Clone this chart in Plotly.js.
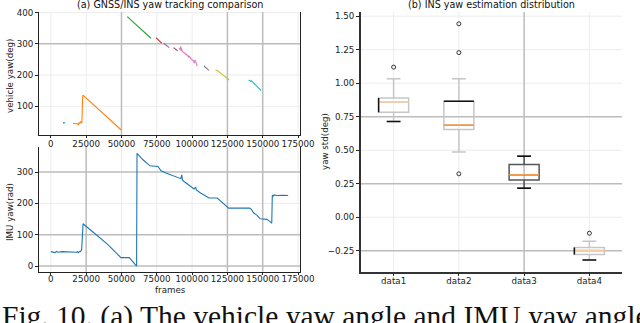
<!DOCTYPE html>
<html>
<head>
<meta charset="utf-8">
<script src="https://cdn.plot.ly/plotly-3.0.1.min.js"></script>
<style>html,body{margin:0;padding:0;background:#fff;}#chart{width:640px;height:323px;}</style>
</head>
<body>
<div id="chart"></div>
<script>
// ---------- DATA ----------
// (a) GNSS/INS yaw segments (frames, deg)
const seg1X = [8800, 9300, 9800];
const seg1Y = [45, 48, 46];
const seg2X = [15900, 17000, 18000, 19000, 19500, 20000, 20500, 21000, 21500, 22000, 22400, 22700, 26000, 30000, 34000, 35000, 37000, 38000, 40000, 45000, 49860];
const seg2Y = [45, 45, 46, 44, 40, 47, 46, 51, 47, 48, 120, 136, 122, 106, 89, 86, 77, 73, 65, 44, 24];
const seg3X = [54070, 56000, 58000, 60000, 62000, 64000, 66000, 68000, 70900];
const seg3Y = [387, 379, 372, 363, 355, 346, 339, 330, 318];
const seg4X = [74440, 76000, 78430];
const seg4Y = [320, 313, 302];
const seg5X = [79830, 81500, 83800];
const seg5Y = [302, 296, 288];
const seg6X = [86870, 88000, 89680];
const seg6Y = [288, 284, 278];
const seg7X = [90800, 91500, 92000, 92300, 92600, 93000, 94000, 95000, 96000, 97000, 97500, 98000, 99000, 100000, 101000, 101500, 102000, 103700];
const seg7Y = [286, 282, 292, 277, 285, 276, 272, 270, 263, 262, 256, 261, 253, 250, 246, 238, 248, 229];
const seg8X = [108400, 110000, 111900];
const seg8Y = [229, 222, 215];
const seg9X = [116600, 118000, 120000, 122000, 124000, 126400];
const seg9Y = [216, 214, 207, 200, 192, 184];
const seg10X = [140000, 141500, 142000, 144000, 146000, 147000, 148900];
const seg10Y = [184, 180, 182, 172, 165, 160, 150];

// IMU yaw (frames, value)
const imuX = [0, 2000, 3000, 4000, 5000, 8000, 12000, 16000, 18000, 19000, 19500, 20500, 21000, 21800, 22300, 22800, 30000, 40000, 49600, 55500, 60700, 61000, 65000, 70200, 75800, 78000, 82000, 87300, 90000, 92000, 92700, 93200, 94300, 98000, 101400, 102500, 103000, 106000, 111900, 117800, 125900, 140700, 142000, 143500, 146000, 148200, 153000, 155200, 156400, 156800, 157300, 158000, 160000, 164000, 168000];
const imuY = [46, 45, 43, 47, 44, 46, 45, 45, 44, 46, 43, 47, 46, 52, 100, 135, 108, 70, 27, 27, 0, 360, 340, 320, 318, 304, 296, 288, 283, 279, 291, 274, 270, 258, 246, 252, 243, 233, 217, 217, 185, 185, 181, 170, 162, 151, 149, 142, 137, 227, 222, 227, 225, 226, 225];

// (b) INS yaw estimation distribution (deg)
const boxCats = ['data1', 'data2', 'data3', 'data4'];
const boxLower = [0.714, 0.486, 0.216, -0.318];
const boxQ1 = [0.783, 0.655, 0.278, -0.278];
const boxMedian = [0.860, 0.687, 0.317, -0.248];
const boxQ3 = [0.890, 0.865, 0.394, -0.226];
const boxUpper = [1.034, 1.034, 0.456, -0.178];
const outlierCat = [1, 2, 2, 2, 4];
const outlierVal = [1.12, 1.443, 1.228, 0.324, -0.119];

const xTicks = [0, 25000, 50000, 75000, 100000, 125000, 150000, 175000];
const topYTicks = [100, 200, 300, 400];
const botYTicks = [0, 100, 200, 300];
const boxYTicks = [-0.25, 0, 0.25, 0.5, 0.75, 1.0, 1.25, 1.5];

// ---------- STYLE ----------
const W = 640, H = 323;
const px = v => v / W, py = v => 1 - v / H;
const tab = ['#1f77b4', '#ff7f0e', '#2ca02c', '#d62728', '#9467bd', '#8c564b', '#e377c2', '#7f7f7f', '#bcbd22', '#17becf'];
const FONT = 'DejaVu Sans, sans-serif';
const tickFont = {family: FONT, size: 8.7, color: '#222'};
const faint = '#ececec', dark = '#bcbcbc';
const BOXW = 0.46;

const segsX = [seg1X, seg2X, seg3X, seg4X, seg5X, seg6X, seg7X, seg8X, seg9X, seg10X];
const segsY = [seg1Y, seg2Y, seg3Y, seg4Y, seg5Y, seg6Y, seg7Y, seg8Y, seg9Y, seg10Y];

const traces = [];
segsX.forEach((sx, i) => {
  traces.push({x: sx, y: segsY[i], type: 'scatter', mode: 'lines', xaxis: 'x', yaxis: 'y',
    line: {color: tab[i], width: 1.1}, hoverinfo: 'skip'});
});
traces.push({x: imuX, y: imuY, type: 'scatter', mode: 'lines', xaxis: 'x2', yaxis: 'y2',
  line: {color: tab[0], width: 1.1}, hoverinfo: 'skip'});

const boxLineColors = ['#c6c6c6', '#c6c6c6', '#555555', '#c6c6c6'];
const medColors = ['#f8cfa6', '#f39a4a', '#f59c50', '#f8cba2'];
boxCats.forEach((c, i) => {
  const pos = i + 1;
  traces.push({type: 'box', x: [pos], q1: [boxQ1[i]], median: [boxMedian[i]], q3: [boxQ3[i]],
    lowerfence: [boxLower[i]], upperfence: [boxUpper[i]], xaxis: 'x3', yaxis: 'y3',
    width: BOXW, whiskerwidth: 0.46, boxpoints: false, fillcolor: 'rgba(0,0,0,0)',
    line: {color: boxLineColors[i], width: 1.5}, hoverinfo: 'skip'});
  traces.push({type: 'scatter', mode: 'lines', x: [pos - BOXW / 2, pos + BOXW / 2], y: [boxMedian[i], boxMedian[i]],
    xaxis: 'x3', yaxis: 'y3', line: {color: medColors[i], width: 1.6}, hoverinfo: 'skip'});
});
// darker edges seen in the reference rendering
const capHalf = BOXW * 0.46 / 2;
const darkEdges = [
  {x: [1 - BOXW / 2, 1 - BOXW / 2], y: [boxQ1[0], boxQ3[0]]},
  {x: [1 - capHalf, 1 + capHalf], y: [boxLower[0], boxLower[0]]},
  {x: [2 - BOXW / 2, 2 + BOXW / 2], y: [boxQ3[1], boxQ3[1]]},
  {x: [3 - capHalf, 3 + capHalf], y: [boxLower[2], boxLower[2]]},
  {x: [3 - capHalf, 3 + capHalf], y: [boxUpper[2], boxUpper[2]]},
  {x: [4 - capHalf, 4 + capHalf], y: [boxLower[3], boxLower[3]]},
  {x: [4 - BOXW / 2, 4 - BOXW / 2], y: [boxQ1[3], boxQ3[3]]}
];
darkEdges.forEach(e => traces.push({type: 'scatter', mode: 'lines', x: e.x, y: e.y, xaxis: 'x3', yaxis: 'y3',
  line: {color: '#111', width: 1.5}, hoverinfo: 'skip'}));
traces.push({type: 'scatter', mode: 'markers', x: outlierCat, y: outlierVal, xaxis: 'x3', yaxis: 'y3',
  marker: {symbol: 'circle-open', size: 4, color: '#333', line: {width: 1, color: '#333'}}, hoverinfo: 'skip'});

const baseAx = {showline: true, linecolor: '#222', linewidth: 1, ticks: 'outside', ticklen: 3, tickwidth: 1,
  tickcolor: '#222', tickfont: tickFont, showgrid: false, zeroline: false, fixedrange: true};

// grid lines as shapes (faint everywhere, darker on some)
const shapes = [];
const vline = (xr, yr, v, col, w) => shapes.push({type: 'line', xref: xr, yref: yr + ' domain', x0: v, x1: v, y0: 0, y1: 1, layer: 'below', line: {color: col, width: w}});
const hline = (xr, yr, v, col, w) => shapes.push({type: 'line', xref: xr + ' domain', yref: yr, x0: 0, x1: 1, y0: v, y1: v, layer: 'below', line: {color: col, width: w}});
const darkTopX = [50000, 125000, 150000], darkTopY = [300];
const darkBotX = [25000, 125000, 150000], darkBotY = [300, 100, 0];
const darkBoxX = [3], darkBoxY = [0.75, 0.25, -0.25];
xTicks.forEach(v => { if (!darkTopX.includes(v)) vline('x', 'y', v, faint, 1); });
topYTicks.forEach(v => { if (!darkTopY.includes(v)) hline('x', 'y', v, faint, 1); });
xTicks.forEach(v => { if (!darkBotX.includes(v)) vline('x2', 'y2', v, faint, 1); });
botYTicks.forEach(v => { if (!darkBotY.includes(v)) hline('x2', 'y2', v, faint, 1); });
[1, 2, 3, 4].forEach(v => { if (!darkBoxX.includes(v)) vline('x3', 'y3', v, faint, 1); });
boxYTicks.forEach(v => { if (!darkBoxY.includes(v)) hline('x3', 'y3', v, faint, 1); });
darkTopX.forEach(v => vline('x', 'y', v, dark, 1.5));
darkTopY.forEach(v => hline('x', 'y', v, dark, 1.5));
darkBotX.forEach(v => vline('x2', 'y2', v, dark, 1.5));
darkBotY.forEach(v => hline('x2', 'y2', v, dark, 1.5));
darkBoxX.forEach(v => vline('x3', 'y3', v, dark, 1.5));
darkBoxY.forEach(v => hline('x3', 'y3', v, dark, 1.5));

const layout = {
  width: W, height: H, margin: {l: 0, r: 0, t: 0, b: 0},
  paper_bgcolor: '#fff', plot_bgcolor: '#fff', showlegend: false,
  font: {family: FONT, size: 8.7, color: '#222'},
  xaxis: Object.assign({}, baseAx, {domain: [px(39), px(300)], anchor: 'y', range: [-8400, 176400], ticklen: 2,
    ticklabelstandoff: -1, tickvals: xTicks, ticktext: xTicks.map(String)}),
  yaxis: Object.assign({}, baseAx, {domain: [py(135), py(12)], anchor: 'x', range: [8, 402], mirror: true,
    tickvals: topYTicks, ticktext: topYTicks.map(String)}),
  xaxis2: Object.assign({}, baseAx, {domain: [px(39), px(300)], anchor: 'y2', range: [-8400, 176400], ticklen: 2,
    ticklabelstandoff: -3, tickvals: xTicks, ticktext: xTicks.map(String)}),
  yaxis2: Object.assign({}, baseAx, {domain: [py(271.7), py(147)], anchor: 'x2', range: [-18, 380], mirror: true,
    tickvals: botYTicks, ticktext: botYTicks.map(String)}),
  xaxis3: Object.assign({}, baseAx, {domain: [px(361), px(622)], anchor: 'y3', range: [0.5, 4.5], ticklen: 2,
    ticklabelstandoff: -2, tickvals: [1, 2, 3, 4], ticktext: boxCats, linewidth: 2, linecolor: '#333'}),
  yaxis3: Object.assign({}, baseAx, {domain: [py(271.7), py(12)], anchor: 'x3', range: [-0.406, 1.531],
    tickvals: boxYTicks, tickformat: '.2f', linewidth: 2, linecolor: '#333'}),
  shapes: shapes,
  annotations: [
    {text: '(a) GNSS/INS yaw tracking comparison', xref: 'paper', yref: 'paper', x: px(170), y: py(5), xanchor: 'center', yanchor: 'middle', showarrow: false, font: {family: FONT, size: 9.6, color: '#111'}},
    {text: '(b) INS yaw estimation distribution', xref: 'paper', yref: 'paper', x: px(491), y: py(5), xanchor: 'center', yanchor: 'middle', showarrow: false, font: {family: FONT, size: 9.6, color: '#111'}},
    {text: 'vehicle yaw(deg)', xref: 'paper', yref: 'paper', x: px(10), y: py(76), xanchor: 'center', yanchor: 'middle', textangle: -90, showarrow: false, font: {family: FONT, size: 8.7, color: '#222'}},
    {text: 'IMU yaw(rad)', xref: 'paper', yref: 'paper', x: px(10), y: py(212), xanchor: 'center', yanchor: 'middle', textangle: -90, showarrow: false, font: {family: FONT, size: 8.7, color: '#222'}},
    {text: 'frames', xref: 'paper', yref: 'paper', x: px(170), y: py(290), xanchor: 'center', yanchor: 'middle', showarrow: false, font: {family: FONT, size: 8.7, color: '#222'}},
    {text: 'yaw std(deg)', xref: 'paper', yref: 'paper', x: px(325), y: py(142), xanchor: 'center', yanchor: 'middle', textangle: -90, showarrow: false, font: {family: FONT, size: 8.7, color: '#222'}},
    {text: 'Fig. 10. (a) The vehicle yaw angle and IMU yaw angle', xref: 'paper', yref: 'paper', x: 0, y: py(298), xanchor: 'left', yanchor: 'top', showarrow: false, font: {family: 'Liberation Serif, serif', size: 29.5, color: '#111'}}
  ]
};

Plotly.newPlot('chart', traces, layout, {staticPlot: true, displayModeBar: false});
</script>
</body>
</html>
